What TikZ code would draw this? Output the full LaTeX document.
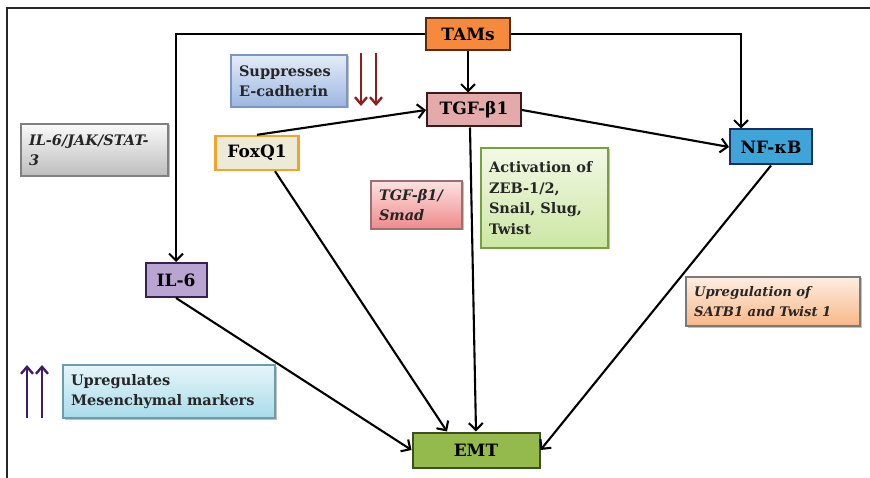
\documentclass[tikz,border=0pt]{standalone}
\usepackage{fontspec}
\setmainfont{DejaVu Serif}
\usetikzlibrary{arrows.meta,shadows,calc}

% key node fills and borders
\definecolor{tamsfill}{HTML}{F58A3C}
\definecolor{tamsline}{HTML}{5A2A08}
\definecolor{tgffill}{HTML}{E3AAAA}
\definecolor{tgfline}{HTML}{3A1A1A}
\definecolor{nffill}{HTML}{3FA4D8}
\definecolor{nfline}{HTML}{1A2F60}
\definecolor{foxfill}{HTML}{EEEAD8}
\definecolor{foxline}{HTML}{EDA52C}
\definecolor{ilfill}{HTML}{B9A4D2}
\definecolor{illine}{HTML}{34224F}
\definecolor{emtfill}{HTML}{94BA4E}
\definecolor{emtline}{HTML}{3C4F1C}
% annotation gradients
\definecolor{suptop}{HTML}{E4ECF8}
\definecolor{supbot}{HTML}{9CB6E0}
\definecolor{supline}{HTML}{7C96C4}
\definecolor{jaktop}{HTML}{FAFAFA}
\definecolor{jakbot}{HTML}{BDBDBD}
\definecolor{jakline}{HTML}{808080}
\definecolor{smadtop}{HTML}{FCE2E2}
\definecolor{smadbot}{HTML}{EE8A8A}
\definecolor{smadline}{HTML}{9A7070}
\definecolor{acttop}{HTML}{F2F9E6}
\definecolor{actbot}{HTML}{CDE6A4}
\definecolor{actline}{HTML}{78A040}
\definecolor{sattop}{HTML}{FDEEE2}
\definecolor{satbot}{HTML}{F8B786}
\definecolor{satline}{HTML}{7A7A7A}
\definecolor{mestop}{HTML}{E6F5F9}
\definecolor{mesbot}{HTML}{A8DCEA}
\definecolor{mesline}{HTML}{6A9EAE}
\definecolor{downred}{HTML}{8E1E1E}
\definecolor{uppurple}{HTML}{3E1E6C}
\definecolor{notetext}{HTML}{262626}

\begin{document}
\begin{tikzpicture}[x=1pt,y=-1pt,
  keybox/.style={draw, line width=2pt, inner sep=2pt,
    font=\fontsize{17}{20}\selectfont\bfseries},
  notebox/.style={draw, line width=1.1pt, inner xsep=8pt, inner ysep=3pt,
    align=left, text=notetext,
    font=\fontsize{14.5}{20.5}\selectfont\bfseries,
    drop shadow={shadow xshift=1.5pt, shadow yshift=-1.5pt, opacity=.35, fill=black!70}},
  conn/.style={line width=2.1pt, -{Straight Barb[length=7pt,width=14pt,line width=2.1pt]}},
  marker/.style={line width=2.4pt, -{Straight Barb[length=7pt,width=12pt,line width=2.4pt]}}
]
\useasboundingbox (0,0) rectangle (870,478);

% open frame: top and left edges
\draw[line width=2.6pt, black!85] (7,478) -- (7,8) -- (870,8);

% key nodes
\node[keybox, fill=tamsfill, draw=tamsline, minimum width=84pt, minimum height=32pt] (tams) at (468,34) {TAMs};
\node[keybox, fill=tgffill, draw=tgfline, minimum width=94pt, minimum height=33pt] (tgf) at (474,110) {TGF-β1};
\node[keybox, fill=nffill, draw=nfline, minimum width=82pt, minimum height=35pt] (nfkb) at (771,147) {NF-κB};
\node[keybox, fill=foxfill, draw=foxline, line width=2.4pt, minimum width=83pt, minimum height=34pt] (foxq) at (257,153) {FoxQ1};
\node[keybox, fill=ilfill, draw=illine, minimum width=61pt, minimum height=34pt] (il6) at (176,280) {IL-6};
\node[keybox, fill=emtfill, draw=emtline, minimum width=127pt, minimum height=35pt] (emt) at (476,450) {EMT};

% annotation boxes
\node[notebox, top color=suptop, bottom color=supbot, draw=supline,
  text width=100pt, minimum height=52pt] (supp) at (289,81)
  {Suppresses\\E-cadherin};
\node[notebox, top color=jaktop, bottom color=jakbot, draw=jakline,
  text width=131pt, minimum height=52pt, font=\fontsize{14.5}{20.5}\selectfont\bfseries\itshape] (jak) at (94.5,150)
  {IL-6/JAK/STAT-\\3};
\node[notebox, top color=smadtop, bottom color=smadbot, draw=smadline,
  text width=75pt, minimum height=48pt, font=\fontsize{14.5}{20.5}\selectfont\bfseries\itshape] (smad) at (416.5,205)
  {TGF-β1/\\Smad};
\node[notebox, top color=acttop, bottom color=actbot, draw=actline,
  text width=111pt, minimum height=100pt] (act) at (544.5,198)
  {Activation of\\ZEB-1/2,\\Snail, Slug,\\Twist};
\node[notebox, top color=sattop, bottom color=satbot, draw=satline,
  text width=158pt, minimum height=49pt, font=\fontsize{13.2}{20.5}\selectfont\bfseries\itshape] (satb) at (773,301.5)
  {Upregulation of\\SATB1 and Twist 1};
\node[notebox, top color=mestop, bottom color=mesbot, draw=mesline,
  text width=196pt, minimum height=53pt] (mes) at (169,391.5)
  {Upregulates\\Mesenchymal markers};

% down / up markers
\coordinate (dA1) at (361,53);  \coordinate (dA2) at (361,106);
\coordinate (dB1) at (376,53);  \coordinate (dB2) at (376,106);
\draw[marker, downred] (dA1) -- (dA2);
\draw[marker, downred] (dB1) -- (dB2);
\coordinate (uA1) at (27,418);  \coordinate (uA2) at (27,365);
\coordinate (uB1) at (42,418);  \coordinate (uB2) at (42,365);
\draw[marker, uppurple] (uA1) -- (uA2);
\draw[marker, uppurple] (uB1) -- (uB2);

% connectors
\draw[conn] (tams.west) -| (il6.north);
\draw[conn] (tams.east) -| ([xshift=12pt]nfkb.north west);
\draw[conn] (tams.south) -- (tams.south |- tgf.north);
\draw[conn] (foxq.north) -- (tgf.west);
\draw[conn] (tgf.east) -- (nfkb.west);
\draw[conn] (il6.south) -- (emt.west);
\draw[conn] ([xshift=18pt]foxq.south) -- ([xshift=-29pt]emt.north);
\draw[conn] ([xshift=-4pt]tgf.south) -- (emt.north);
\draw[conn] (nfkb.south) -- (emt.east);
\end{tikzpicture}
\end{document}
